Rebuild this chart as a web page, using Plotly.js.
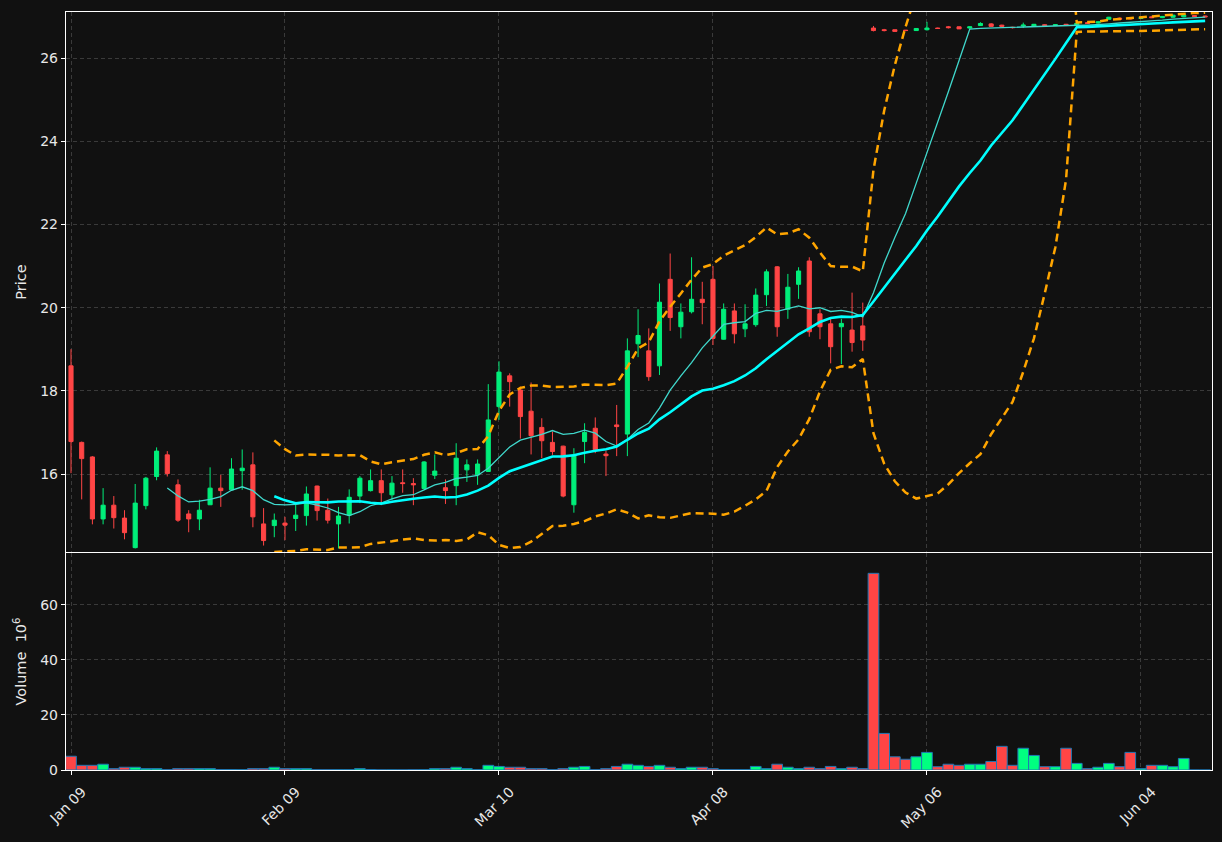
<!DOCTYPE html>
<html><head><meta charset="utf-8">
<script src="https://cdn.plot.ly/plotly-3.0.1.min.js"></script>
<style>html,body{margin:0;padding:0;background:#111111;}#chart{width:1222px;height:842px;}</style>
</head><body><div id="chart"></div>
<script>
const tickPositions = [0, 20, 40, 60, 80, 100];
const tickLabels = ["Jan 09", "Feb 09", "Mar 10", "Apr 08", "May 06", "Jun 04"];

const opens = [18.60,16.76,16.41,14.92,15.25,14.94,14.23,15.24,15.94,16.46,
15.74,15.04,14.92,15.26,15.66,15.62,16.08,16.22,14.80,14.76,
14.82,14.93,15.00,15.71,15.13,14.80,15.01,15.47,15.60,15.84,
15.50,15.79,15.77,15.65,15.97,15.67,15.72,16.10,15.98,16.06,
17.62,18.36,18.02,17.51,17.12,16.76,16.67,15.26,16.78,17.10,
16.48,17.18,16.96,19.13,18.96,18.60,20.68,19.54,19.90,20.20,
20.68,19.24,19.92,19.49,19.59,20.31,20.98,19.96,20.56,21.12,
19.85,19.61,19.54,19.46,19.56,26.72,26.68,26.68,26.67,26.66,
26.68,26.72,26.75,26.75,26.72,26.78,26.82,26.79,26.74,26.77,
26.77,26.80,26.78,26.81,26.80,26.85,26.84,26.93,26.96,26.97,
26.95,26.99,26.97,26.98,26.99,27.02,27.01];
const highs = [19.00,16.78,16.43,15.66,15.47,15.13,15.76,15.93,16.64,16.55,
15.87,15.13,15.38,16.16,15.98,16.38,16.59,16.52,15.18,15.05,
14.97,15.26,15.70,15.72,15.41,15.21,15.63,15.95,16.11,16.11,
15.95,16.11,15.90,16.31,16.47,15.87,16.74,16.35,16.35,18.16,
18.71,18.42,18.10,18.20,17.34,17.02,16.68,16.62,17.22,17.36,
16.56,17.66,19.26,19.96,19.50,20.58,21.30,20.10,21.21,20.62,
21.00,20.10,20.10,20.08,20.46,20.92,21.00,20.81,20.97,21.21,
19.96,19.74,19.73,20.36,20.12,26.77,26.70,26.68,26.67,26.71,
26.87,26.73,26.77,26.76,26.76,26.86,26.84,26.80,26.75,26.85,
26.82,26.81,26.81,26.82,26.84,26.86,26.88,26.99,26.97,26.98,
26.98,27.00,27.01,27.04,27.04,27.03,27.02];
const lows = [16.02,15.39,14.79,14.79,14.69,14.43,14.21,15.15,15.85,15.94,
14.85,14.60,14.65,15.26,15.21,15.60,15.62,14.72,14.28,14.48,
14.41,14.63,14.76,14.88,14.81,14.21,14.81,15.30,15.58,15.25,
15.38,15.55,15.25,15.64,15.88,15.28,15.25,15.81,15.74,16.05,
17.30,17.62,16.85,16.47,16.38,16.46,15.44,15.07,16.26,16.50,
15.95,16.43,16.43,18.81,18.24,18.38,19.44,19.26,19.86,19.60,
19.10,19.23,19.14,19.29,19.54,20.04,19.30,19.73,20.21,19.30,
19.24,18.66,18.64,18.94,18.96,26.64,26.64,26.63,26.65,26.66,
26.66,26.70,26.71,26.70,26.71,26.77,26.76,26.75,26.71,26.72,
26.76,26.77,26.77,26.78,26.79,26.82,26.83,26.92,26.92,26.93,
26.94,26.96,26.96,26.97,26.98,26.99,26.98];
const closes = [16.78,16.37,14.92,15.25,14.95,14.59,15.30,15.90,16.55,16.01,
14.89,14.92,15.13,15.66,15.60,16.12,16.14,14.97,14.40,14.89,
14.77,15.01,15.52,15.12,14.89,14.99,15.44,15.90,15.84,15.55,
15.78,15.77,15.74,16.29,16.07,15.60,16.38,16.22,16.24,17.30,
18.45,18.22,17.38,16.92,16.80,16.54,15.47,16.46,17.00,16.58,
16.44,17.14,18.96,19.33,18.34,20.13,19.76,19.89,20.20,20.12,
19.26,19.96,19.37,19.61,20.30,20.86,19.54,20.49,20.88,19.42,
19.54,19.06,19.62,19.16,19.22,26.66,26.66,26.64,26.66,26.71,
26.72,26.71,26.73,26.70,26.75,26.83,26.76,26.76,26.73,26.79,
26.81,26.78,26.80,26.79,26.83,26.83,26.87,26.98,26.93,26.94,
26.97,26.97,27.00,27.03,27.03,27.00,26.99];
const volumes = [5.0,1.7,1.7,2.1,0.5,1.0,1.0,0.5,0.5,0.1,
0.5,0.5,0.5,0.5,0.15,0.15,0.1,0.5,0.5,1.0,
0.5,0.5,0.5,0.1,0.1,0.1,0.1,0.5,0.15,0.05,
0.05,0.05,0.1,0.1,0.5,0.5,1.0,0.5,0.1,1.7,
1.3,1.0,1.0,0.5,0.5,0.1,0.5,1.0,1.3,0.1,
0.5,1.3,2.1,1.7,1.3,1.7,1.0,0.5,1.0,1.0,
0.5,0.1,0.1,0.1,1.3,0.5,2.1,1.0,0.5,1.0,
0.5,1.3,0.5,1.0,0.5,71.5,13.3,4.8,3.9,4.8,
6.4,1.2,2.1,1.7,2.1,2.1,3.1,8.6,1.7,7.9,
5.3,1.2,1.2,7.9,2.4,0.5,1.0,2.4,1.2,6.4,
0.5,1.7,1.7,1.2,4.2,0,0];

const UP = '#00ee7a', DOWN = '#ff4545';
const idx = closes.map((_, i) => i);

function rollingMean(arr, n) {
  return arr.map((_, i) => {
    if (i < n - 1) return null;
    let s = 0; for (let k = i - n + 1; k <= i; k++) s += arr[k];
    return s / n;
  });
}
function rollingStd(arr, n) {
  return arr.map((_, i) => {
    if (i < n - 1) return null;
    let s = 0; for (let k = i - n + 1; k <= i; k++) s += arr[k];
    const m = s / n; let v = 0;
    for (let k = i - n + 1; k <= i; k++) v += (arr[k] - m) ** 2;
    return Math.sqrt(v / n);
  });
}
const ma10 = rollingMean(closes, 10);
const ma20 = rollingMean(closes, 20);
const sd20 = rollingStd(closes, 20);
const bbUp = ma20.map((m, i) => m === null ? null : m + 2 * sd20[i]);
const bbLo = ma20.map((m, i) => m === null ? null : m - 2 * sd20[i]);
const volColors = closes.map((c, i) => c >= opens[i] ? '#00ff80' : DOWN);

const traces = [
  {type: 'candlestick', x: idx, open: opens, high: highs, low: lows, close: closes,
   xaxis: 'x2', yaxis: 'y2', whiskerwidth: 0,
   increasing: {line: {color: UP, width: 1}, fillcolor: UP},
   decreasing: {line: {color: DOWN, width: 1}, fillcolor: DOWN},
   showlegend: false, hoverinfo: 'skip'},
  {type: 'scatter', mode: 'lines', x: idx, y: ma10, xaxis: 'x2', yaxis: 'y2',
   line: {color: '#40d8cc', width: 1.3}, showlegend: false, hoverinfo: 'skip'},
  {type: 'scatter', mode: 'lines', x: idx, y: ma20, xaxis: 'x2', yaxis: 'y2',
   line: {color: '#00ffff', width: 2.6}, showlegend: false, hoverinfo: 'skip'},
  {type: 'scatter', mode: 'lines', x: idx, y: bbUp, xaxis: 'x2', yaxis: 'y2',
   line: {color: '#ffa500', width: 2.5, dash: '8px,5px'}, showlegend: false, hoverinfo: 'skip'},
  {type: 'scatter', mode: 'lines', x: idx, y: bbLo, xaxis: 'x2', yaxis: 'y2',
   line: {color: '#ffa500', width: 2.5, dash: '8px,5px'}, showlegend: false, hoverinfo: 'skip'},
  {type: 'bar', x: idx, y: volumes, xaxis: 'x', yaxis: 'y', width: 1,
   marker: {color: volColors, line: {color: '#1f77b4', width: 1}},
   showlegend: false, hoverinfo: 'skip'}
];

const FONT = 'DejaVu Sans, sans-serif';
const TXT = '#e8e8e8';
const xr = [-0.467, 106.64];
const gridCommon = {gridcolor: '#3a3a3a', griddash: '4px,3px', gridwidth: 1, zeroline: false,
  showline: true, linecolor: '#ffffff', linewidth: 1.2, mirror: true};

const layout = {
  width: 1222, height: 842,
  paper_bgcolor: '#111111', plot_bgcolor: '#111111',
  margin: {l: 66, r: 10, t: 12, b: 72},
  font: {family: FONT, color: TXT, size: 14},
  boxgap: 0.45,
  showlegend: false,
  xaxis: Object.assign({}, gridCommon, {
    range: xr, domain: [0, 1], anchor: 'y',
    tickmode: 'array', tickvals: tickPositions, ticktext: tickLabels,
    tickangle: -45, ticks: 'outside', ticklen: 4, tickcolor: '#ffffff',
    ticklabelshift: 11, ticklabelstandoff: 3,
    tickfont: {family: FONT, size: 14, color: TXT}
  }),
  yaxis: Object.assign({}, gridCommon, {
    domain: [0, 0.2863], range: [0, 78.9], anchor: 'x',
    tickmode: 'array', tickvals: [0, 20, 40, 60], ticktext: ['0', '20', '40', '60'],
    ticks: 'outside', ticklen: 4, tickcolor: '#ffffff',
    tickfont: {family: FONT, size: 14, color: TXT},
    title: {text: 'Volume  10<sup>6</sup>', font: {family: FONT, size: 14.5, color: TXT}, standoff: 10}
  }),
  xaxis2: Object.assign({}, gridCommon, {
    range: xr, domain: [0, 1], anchor: 'y2', matches: 'x',
    tickmode: 'array', tickvals: tickPositions, ticktext: tickLabels,
    showticklabels: false, ticks: '',
    rangeslider: {visible: false}
  }),
  yaxis2: Object.assign({}, gridCommon, {
    domain: [0.2876, 1], range: [14.125, 27.106], anchor: 'x2',
    tickmode: 'array', tickvals: [16, 18, 20, 22, 24, 26], ticktext: ['16', '18', '20', '22', '24', '26'],
    ticks: 'outside', ticklen: 4, tickcolor: '#ffffff',
    tickfont: {family: FONT, size: 14, color: TXT},
    title: {text: 'Price', font: {family: FONT, size: 14.5, color: TXT}, standoff: 10}
  })
};

Plotly.newPlot('chart', traces, layout, {staticPlot: true, displayModeBar: false});
</script>
</body></html>
